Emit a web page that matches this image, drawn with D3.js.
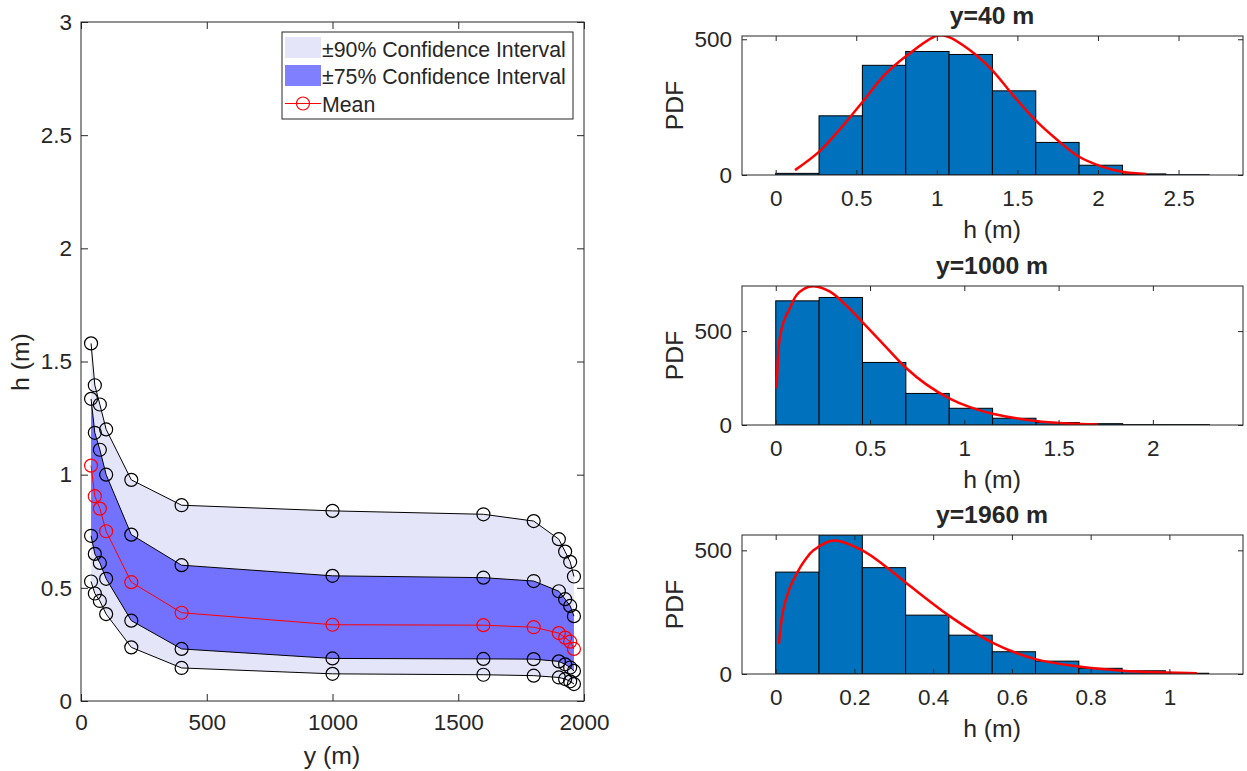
<!DOCTYPE html>
<html>
<head>
<meta charset="utf-8">
<script src="https://cdn.jsdelivr.net/npm/d3@7"></script>
<style>
  body { margin: 0; background: #fff; }
  text { font-family: "Liberation Sans", Arial, sans-serif; fill: #262626; }
</style>
</head>
<body>
<svg id="fig" width="1247" height="771"></svg>
<script>
// ---- data: left panel (cross-section statistics) ----
var yStations = [40, 55, 75, 100, 200, 400, 1000, 1600, 1800, 1900, 1925, 1945, 1960];
var hUpper90  = [1.58, 1.395, 1.31, 1.20, 0.977, 0.865, 0.84, 0.825, 0.795, 0.715, 0.66, 0.615, 0.55];
var hUpper75  = [1.335, 1.185, 1.11, 1.0, 0.735, 0.60, 0.553, 0.545, 0.53, 0.485, 0.45, 0.42, 0.375];
var hMean     = [1.04, 0.905, 0.85, 0.75, 0.525, 0.39, 0.337, 0.335, 0.326, 0.30, 0.28, 0.262, 0.23];
var hLower75  = [0.73, 0.65, 0.61, 0.54, 0.355, 0.23, 0.188, 0.186, 0.185, 0.175, 0.162, 0.148, 0.133];
var hLower90  = [0.528, 0.475, 0.442, 0.384, 0.237, 0.146, 0.12, 0.116, 0.112, 0.104, 0.097, 0.087, 0.075];
var legendLabels = ["\u00b190% Confidence Interval", "\u00b175% Confidence Interval", "Mean"];
var leftXTicks = [0, 500, 1000, 1500, 2000];
var leftYTicks = [0, 0.5, 1, 1.5, 2, 2.5, 3];

// ---- data: histograms ----
var edges40   = [0, 0.269, 0.538, 0.807, 1.076, 1.345, 1.614, 1.883, 2.152, 2.421, 2.69];
var pdf40     = [6, 218, 404, 455, 444, 310, 120, 36, 4, 1];
var fit40x    = [0.12, 0.27, 0.40, 0.54, 0.67, 0.81, 1.0, 1.07, 1.20, 1.34, 1.47, 1.61, 1.75, 1.88, 2.02, 2.15, 2.30];
var fit40y    = [18, 86, 170, 270, 365, 438, 513, 509, 462, 388, 296, 203, 128, 68, 32, 12, 4];

var edges1000 = [0, 0.23, 0.46, 0.69, 0.92, 1.15, 1.38, 1.61, 1.84, 2.07, 2.30];
var pdf1000   = [661, 679, 333, 168, 89, 36, 13, 7, 2, 2];
var fit1000x  = [0.005, 0.02, 0.045, 0.07, 0.11, 0.15, 0.2, 0.29, 0.38, 0.47, 0.58, 0.69, 0.80, 0.92, 1.03, 1.15, 1.38, 1.55, 1.71];
var fit1000y  = [195, 452, 560, 612, 691, 725, 739, 709, 630, 537, 420, 305, 215, 142, 95, 60, 21, 8, 3];

var edges1960 = [0, 0.11, 0.22, 0.33, 0.44, 0.55, 0.66, 0.77, 0.88, 0.99, 1.10];
var pdf1960   = [412, 562, 430, 238, 157, 90, 52, 23, 13, 3];
var fit1960x  = [0.008, 0.019, 0.035, 0.053, 0.075, 0.096, 0.147, 0.22, 0.275, 0.33, 0.44, 0.55, 0.66, 0.77, 0.88, 0.99, 1.07];
var fit1960y  = [121, 258, 345, 406, 462, 500, 540, 500, 440, 370, 236, 127, 60, 30, 13, 6, 3];

var hTitles = ["y=40 m", "y=1000 m", "y=1960 m"];

var svg = d3.select("#fig");
var axisCol = "#262626";
var tickFont = 22.5, labelFont = 24.75, legendFont = 21.3;
var fmt = function(d){ return String(d); };

// box axes with inward ticks mirrored on all four sides (MATLAB style)
function drawBox(g, x, y, xt, yt, tick, padX, padY){
  var xr = x.range(), yr = y.range();
  var xa = g.append("g").attr("transform", "translate(0," + yr[0] + ")")
    .call(d3.axisBottom(x).tickValues(xt).tickSizeInner(-tick).tickSizeOuter(0).tickPadding(padX).tickFormat(fmt));
  var xt2 = g.append("g").attr("transform", "translate(0," + yr[1] + ")")
    .call(d3.axisTop(x).tickValues(xt).tickSizeInner(-tick).tickSizeOuter(0).tickFormat(""));
  var ya = g.append("g").attr("transform", "translate(" + xr[0] + ",0)")
    .call(d3.axisLeft(y).tickValues(yt).tickSizeInner(-tick).tickSizeOuter(0).tickPadding(padY).tickFormat(fmt));
  var ya2 = g.append("g").attr("transform", "translate(" + xr[1] + ",0)")
    .call(d3.axisRight(y).tickValues(yt).tickSizeInner(-tick).tickSizeOuter(0).tickFormat(""));
  [xa, xt2, ya, ya2].forEach(function(a){
    a.selectAll("path.domain").remove();
    a.selectAll("line").attr("stroke", axisCol);
    a.selectAll("text").attr("font-size", tickFont).attr("fill", axisCol)
      .style("font-family", '"Liberation Sans", Arial, sans-serif');
  });
  g.append("rect")
    .attr("x", xr[0]).attr("y", yr[1])
    .attr("width", xr[1] - xr[0]).attr("height", yr[0] - yr[1])
    .attr("fill", "none").attr("stroke", axisCol).attr("stroke-width", 1);
}

// ---------------- left panel ----------------
var lx = d3.scaleLinear().domain([0, 2000]).range([81, 584]);
var ly = d3.scaleLinear().domain([0, 3]).range([701, 22]);
var left = svg.append("g");

var idx = d3.range(yStations.length);
var band = function(lo, hi){
  return d3.area().x(function(i){ return lx(yStations[i]); })
    .y0(function(i){ return ly(lo[i]); }).y1(function(i){ return ly(hi[i]); });
};
left.append("path").attr("d", band(hLower90, hUpper90)(idx)).attr("fill", "#e5e5fa");
left.append("path").attr("d", band(hLower75, hUpper75)(idx)).attr("fill", "#7272ff");

var lineOf = function(arr){
  return d3.line().x(function(i){ return lx(yStations[i]); }).y(function(i){ return ly(arr[i]); })(idx);
};
[hUpper90, hUpper75, hLower75, hLower90].forEach(function(arr){
  left.append("path").attr("d", lineOf(arr)).attr("fill", "none").attr("stroke", "#000").attr("stroke-width", 1);
  left.append("g").selectAll("circle").data(idx).join("circle")
    .attr("cx", function(i){ return lx(yStations[i]); })
    .attr("cy", function(i){ return ly(arr[i]); })
    .attr("r", 6.5).attr("fill", "none").attr("stroke", "#000").attr("stroke-width", 1.2);
});
left.append("path").attr("d", lineOf(hMean)).attr("fill", "none").attr("stroke", "#ff0000").attr("stroke-width", 1);
left.append("g").selectAll("circle").data(idx).join("circle")
  .attr("cx", function(i){ return lx(yStations[i]); })
  .attr("cy", function(i){ return ly(hMean[i]); })
  .attr("r", 6.5).attr("fill", "none").attr("stroke", "#ff0000").attr("stroke-width", 1.2);

drawBox(left, lx, ly, leftXTicks, leftYTicks, 7, 13, 9);

left.append("text").attr("x", 332).attr("y", 764).attr("text-anchor", "middle")
  .attr("font-size", labelFont).text("y (m)");
left.append("text").attr("transform", "translate(29,362) rotate(-90)").attr("text-anchor", "middle")
  .attr("font-size", labelFont).text("h (m)");

// legend
var lg = left.append("g");
lg.append("rect").attr("x", 282).attr("y", 32).attr("width", 291).attr("height", 87)
  .attr("fill", "#fff").attr("stroke", axisCol).attr("stroke-width", 1);
lg.append("rect").attr("x", 285).attr("y", 37).attr("width", 36).attr("height", 21).attr("fill", "#e5e5fa");
lg.append("rect").attr("x", 285).attr("y", 65).attr("width", 36).attr("height", 21).attr("fill", "#8080ff");
lg.append("line").attr("x1", 285).attr("x2", 321).attr("y1", 103.5).attr("y2", 103.5)
  .attr("stroke", "#ff0000").attr("stroke-width", 1);
lg.append("circle").attr("cx", 303).attr("cy", 103.5).attr("r", 6.5)
  .attr("fill", "none").attr("stroke", "#ff0000").attr("stroke-width", 1.2);
[57, 84, 111.5].forEach(function(by, k){
  lg.append("text").attr("x", 322).attr("y", by).attr("font-size", legendFont).text(legendLabels[k]);
});

// ---------------- histograms ----------------
var panels = [
  {edges: edges40, pdf: pdf40, fx: fit40x, fy: fit40y, xDom: [-0.209, 2.9], yMax: 512,
   xt: [0, 0.5, 1, 1.5, 2, 2.5], top: 36, bottom: 175},
  {edges: edges1000, pdf: pdf1000, fx: fit1000x, fy: fit1000y, xDom: [-0.179, 2.478], yMax: 740,
   xt: [0, 0.5, 1, 1.5, 2], top: 286, bottom: 425},
  {edges: edges1960, pdf: pdf1960, fx: fit1960x, fy: fit1960y, xDom: [-0.0856, 1.187], yMax: 562,
   xt: [0, 0.2, 0.4, 0.6, 0.8, 1], top: 535, bottom: 674}
];

panels.forEach(function(p, k){
  var g = svg.append("g");
  var x = d3.scaleLinear().domain(p.xDom).range([742, 1243]);
  var y = d3.scaleLinear().domain([0, p.yMax]).range([p.bottom, p.top]);

  var cid = "clip" + k;
  g.append("clipPath").attr("id", cid).append("rect")
    .attr("x", 742).attr("y", p.top).attr("width", 501).attr("height", p.bottom - p.top);

  var plot = g.append("g").attr("clip-path", "url(#" + cid + ")");
  plot.selectAll("rect.bar").data(p.pdf).join("rect").attr("class", "bar")
    .attr("x", function(d, i){ return x(p.edges[i]); })
    .attr("width", function(d, i){ return x(p.edges[i + 1]) - x(p.edges[i]); })
    .attr("y", function(d){ return y(d); })
    .attr("height", function(d){ return p.bottom - y(d); })
    .attr("fill", "#0072bd").attr("stroke", "#000").attr("stroke-width", 1);

  var fitLine = d3.line().curve(d3.curveCatmullRom.alpha(0.5))
    .x(function(i){ return x(p.fx[i]); }).y(function(i){ return y(p.fy[i]); });
  plot.append("path").attr("d", fitLine(d3.range(p.fx.length)))
    .attr("fill", "none").attr("stroke", "#ff0000").attr("stroke-width", 2.5);

  drawBox(g, x, y, p.xt, [0, 500], 5, 15, 10);

  g.append("text").attr("x", 992).attr("y", p.top - 12).attr("text-anchor", "middle")
    .attr("font-size", labelFont).attr("font-weight", "bold").attr("fill", "#000").text(hTitles[k]);
  g.append("text").attr("x", 992).attr("y", p.bottom + 63).attr("text-anchor", "middle")
    .attr("font-size", labelFont).text("h (m)");
  g.append("text").attr("transform", "translate(683," + ((p.top + p.bottom) / 2) + ") rotate(-90)")
    .attr("text-anchor", "middle").attr("font-size", labelFont).text("PDF");
});
</script>
</body>
</html>
